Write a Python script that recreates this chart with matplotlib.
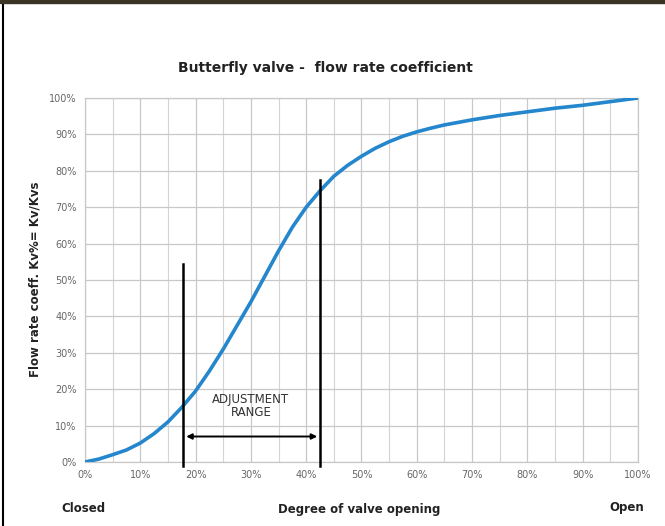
import numpy as np
import matplotlib
matplotlib.use("Agg")
import matplotlib.pyplot as plt
from matplotlib.lines import Line2D
from matplotlib.patches import Rectangle

# valve opening (%) vs flow rate coefficient (%)
opening = [0, 2.5, 5, 7.5, 10, 12.5, 15, 17.5, 20, 22.5, 25, 27.5, 30, 32.5, 35, 37.5,
           40, 42.5, 45, 47.5, 50, 52.5, 55, 57.5, 60, 62.5, 65, 67.5, 70, 75, 80, 85, 90, 95, 100]
kv_percent = [0, 0.8, 2, 3.3, 5.2, 7.8, 11, 15, 19.5, 25, 31, 37.5, 44, 51, 58, 64.5,
              70, 74.5, 78.5, 81.5, 84, 86.2, 88, 89.5, 90.7, 91.7, 92.6, 93.3, 94, 95.2, 96.2, 97.2, 98, 99, 100]

range_start = 17.8
range_end = 42.5
range_start_top = 54.5
range_end_top = 77.5

x_ticks = list(range(0, 101, 10))
y_ticks = list(range(0, 101, 10))

fig = plt.figure(figsize=(6.65, 5.26), dpi=100)
ax = fig.add_axes([0.1278, 0.1217, 0.8316, 0.692])

# grid: every 5% on x, every 10% on y
ax.set_xticks(np.arange(0, 101, 5), minor=True)
ax.set_xticks(x_ticks)
ax.set_yticks(y_ticks)
ax.grid(True, which="major", color="#c8c8c8", lw=0.9)
ax.grid(True, which="minor", axis="x", color="#d4d4d4", lw=0.8)
ax.set_axisbelow(True)

ax.plot(opening, kv_percent, color="#2486cc", lw=2.6, solid_capstyle="round",
        solid_joinstyle="round", zorder=3)

# adjustment range markers
ax.plot([range_start, range_start], [-1, range_start_top], color="black", lw=1.8, clip_on=False, zorder=4)
ax.plot([range_end, range_end], [-1, range_end_top], color="black", lw=1.8, clip_on=False, zorder=4)
ax.annotate("", xy=(range_start, 7), xytext=(range_end, 7),
            arrowprops=dict(arrowstyle="<|-|>", color="black", lw=1.4, mutation_scale=8))
ax.text(30, 15.5, "ADJUSTMENT\nRANGE", ha="center", va="center", fontsize=8.5,
        color="#333333", linespacing=1.0)

ax.set_xlim(0, 100)
ax.set_ylim(0, 100)
ax.set_xticklabels([f"{t}%" for t in x_ticks], fontsize=7, color="#666666")
ax.set_yticklabels([f"{t}%" for t in y_ticks], fontsize=7, color="#666666")
ax.tick_params(length=0, pad=6)
ax.tick_params(which="minor", length=0)
for s in ax.spines.values():
    s.set_color("#c8c8c8")
    s.set_linewidth(0.9)

fig.text(0.489, 0.87, "Butterfly valve -  flow rate coefficient", ha="center", va="center",
         fontsize=10, fontweight="bold", color="#222222")
fig.text(0.053, 0.47, "Flow rate coeff. Kv%= Kv/Kvs", rotation=90, ha="center", va="center",
         fontsize=8.5, fontweight="bold", color="#222222")
fig.text(0.54, 0.032, "Degree of valve opening", ha="center", va="center",
         fontsize=8.5, fontweight="bold", color="#222222")
fig.text(0.125, 0.034, "Closed", ha="center", va="center",
         fontsize=8.5, fontweight="bold", color="#222222")
fig.text(0.942, 0.036, "Open", ha="center", va="center",
         fontsize=8.5, fontweight="bold", color="#222222")

# photo frame edges
fig.add_artist(Rectangle((0, 1 - 3 / 526), 1, 3 / 526, transform=fig.transFigure,
                         color="#3a3326", zorder=10))
fig.add_artist(Line2D([3 / 665, 3 / 665], [0, 1 - 3 / 526], transform=fig.transFigure,
                      color="black", lw=1.5))

fig.savefig("out.png", dpi=100)
